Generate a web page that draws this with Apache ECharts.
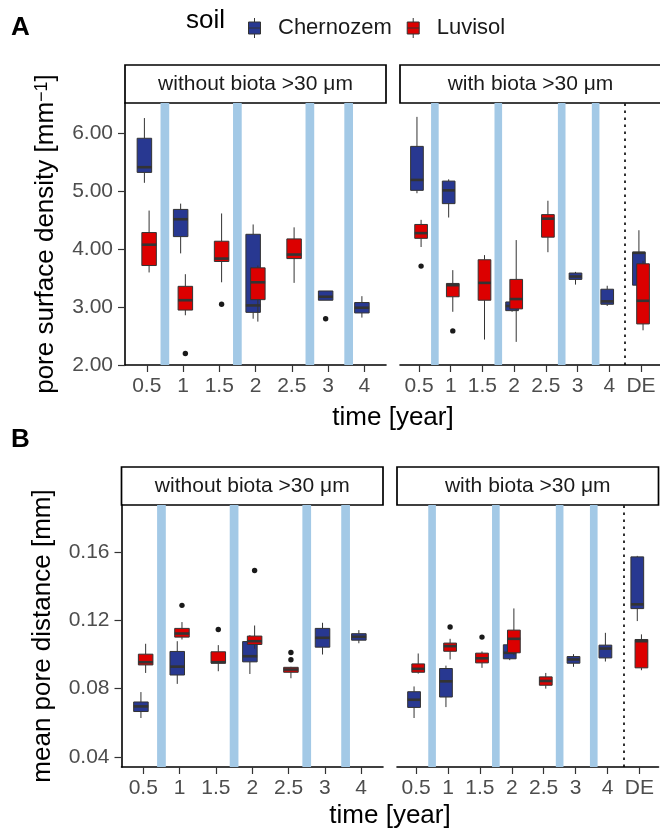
<!DOCTYPE html>
<html><head><meta charset="utf-8">
<script src="https://cdn.jsdelivr.net/npm/echarts@6/dist/echarts.min.js"></script>
<style>html,body{margin:0;padding:0;background:#fff}#c{width:660px;height:832px}</style>
</head><body><div id="c"></div><script>
// ---------- data ----------
const timesWithout = ['0.5','1','1.5','2','2.5','3','4'];
const timesWith = ['0.5','1','1.5','2','2.5','3','4','DE'];
const soils = ['Chernozem','Luvisol'];
const facetLabels = ['without biota >30 μm','with biota >30 μm'];
const densityTicks = [2,3,4,5,6];
const distanceTicks = [0.04,0.08,0.12,0.16];
const bandTimes = [0.5,2.5,4.5,5.57];   // positions in category units
const deSeparator = 6.5;

// boxes: [time, lower whisker, Q1, median, Q3, upper whisker]
const densityWithoutChernozem = [
  ['0.5',5.15,5.33,5.42,5.92,6.27],['1',3.93,4.22,4.52,4.69,4.79],['2',2.80,2.91,3.03,4.26,4.43],
  ['3',3.12,3.12,3.18,3.28,3.28],['4',2.82,2.90,2.99,3.08,3.19]];
const densityWithoutLuvisol = [
  ['0.5',3.60,3.72,4.08,4.29,4.67],['1',2.86,2.95,3.12,3.36,3.57],['1.5',3.43,3.79,3.84,4.14,4.62],
  ['2',2.75,3.13,3.43,3.68,3.72],['2.5',3.42,3.84,3.91,4.18,4.38]];
const densityWithoutChernozemOut = [['3',2.80]];
const densityWithoutLuvisolOut = [['1',2.20],['1.5',3.05]];

const densityWithChernozem = [
  ['0.5',4.97,5.02,5.20,5.78,6.29],['1',4.55,4.79,5.02,5.18,5.21],['2',2.92,2.94,3.02,3.09,3.10],
  ['3',3.39,3.48,3.53,3.59,3.61],['4',3.02,3.05,3.10,3.31,3.37],['DE',3.30,3.38,3.94,3.95,4.33]];
const densityWithLuvisol = [
  ['0.5',4.04,4.19,4.28,4.43,4.51],['1',2.92,3.18,3.38,3.41,3.64],['1.5',2.44,3.12,3.42,3.82,3.90],
  ['2',2.40,2.97,3.14,3.48,4.16],['2.5',3.95,4.21,4.53,4.60,4.84],['DE',2.60,2.71,3.11,3.75,3.80]];
const densityWithChernozemOut = [];
const densityWithLuvisolOut = [['0.5',3.71],['1',2.59]];

const distanceWithoutChernozem = [
  ['0.5',0.0628,0.0666,0.0696,0.0722,0.0780],['1',0.0828,0.0880,0.0929,0.1018,0.1078],
  ['2',0.0886,0.0957,0.0990,0.1076,0.1113],['3',0.1000,0.1043,0.1098,0.1153,0.1186],
  ['4',0.1066,0.1084,0.1104,0.1122,0.1143]];
const distanceWithoutLuvisol = [
  ['0.5',0.0892,0.0939,0.0955,0.1002,0.1063],['1',0.1088,0.1102,0.1123,0.1153,0.1190],
  ['1.5',0.0902,0.0949,0.0955,0.1016,0.1055],['2',0.1034,0.1059,0.1078,0.1108,0.1170],
  ['2.5',0.0861,0.0896,0.0912,0.0925,0.0928]];
const distanceWithoutChernozemOut = [];
const distanceWithoutLuvisolOut = [['1',0.1288],['1.5',0.1147],['2',0.1492],['2.5',0.1012],['2.5',0.0969]];

const distanceWithChernozem = [
  ['0.5',0.0628,0.0690,0.0735,0.0782,0.0813],['1',0.0692,0.0751,0.0843,0.0918,0.0935],
  ['2',0.0967,0.0975,0.1010,0.1057,0.1080],['3',0.0928,0.0949,0.0971,0.0988,0.1002],
  ['4',0.0959,0.0980,0.1035,0.1055,0.1127],['DE',0.1196,0.1269,0.1294,0.1572,0.1578]];
const distanceWithLuvisol = [
  ['0.5',0.0888,0.0896,0.0916,0.0945,0.1006],['1',0.0971,0.1019,0.1049,0.1067,0.1092],
  ['1.5',0.0922,0.0951,0.0978,0.1008,0.1018],['2',0.0996,0.1010,0.1092,0.1143,0.1270],
  ['2.5',0.0800,0.0820,0.0845,0.0869,0.0892],['DE',0.0908,0.0922,0.1078,0.1088,0.1118]];
const distanceWithChernozemOut = [];
const distanceWithLuvisolOut = [['1',0.1161],['1.5',0.1102]];

// ---------- styles ----------
const FONT = 'Liberation Sans, Arial, sans-serif';
const soilColors = {Chernozem:'#283891', Luvisol:'#dc0000'};
const soilDodge = {Chernozem:-0.065, Luvisol:0.065};
const BOX_HALF = 0.2;
const EDGE = '#333333';
const BAND = '#a3c9e6';
const STRIP_H = 38;
const panels = [
  {grid:{left:125, top:103, width:261, height:262}, cats:timesWithout},
  {grid:{left:400, top:103, width:261, height:262}, cats:timesWith},
  {grid:{left:121.5, top:505, width:261.5, height:262}, cats:timesWithout},
  {grid:{left:397, top:505, width:261.5, height:262}, cats:timesWith}
];
const yRanges = [[2, 6.53],[2, 6.53],[0.0341, 0.1876],[0.0341, 0.1876]];

const chart = echarts.init(document.getElementById('c'), null, {renderer:'canvas'});

function toRows(cats, rows){ return rows.map(r => [cats.indexOf(r[0])].concat(r.slice(1))); }

function boxSeries(p, soil, rows, extra){
  const color = soilColors[soil], off = soilDodge[soil];
  const s = {
    type:'custom', name:soil, xAxisIndex:p, yAxisIndex:p, z:3,
    itemStyle:{color:color},
    encode:{x:0, y:[1,2,3,4,5]},
    data: toRows(panels[p].cats, rows),
    renderItem:function(params, api){
      const x = api.value(0) + off;
      const lo = api.coord([x, api.value(1)]);
      const q1 = api.coord([x, api.value(2)]);
      const md = api.coord([x, api.value(3)]);
      const q3 = api.coord([x, api.value(4)]);
      const hi = api.coord([x, api.value(5)]);
      const half = api.size([BOX_HALF, 0])[0];
      const cx = md[0];
      return {type:'group', children:[
        {type:'line', shape:{x1:cx,y1:hi[1],x2:cx,y2:q3[1]}, style:{stroke:EDGE,lineWidth:1}},
        {type:'line', shape:{x1:cx,y1:q1[1],x2:cx,y2:lo[1]}, style:{stroke:EDGE,lineWidth:1}},
        {type:'rect', shape:{x:cx-half,y:q3[1],width:2*half,height:q1[1]-q3[1]}, style:{fill:color,stroke:EDGE,lineWidth:1}},
        {type:'line', shape:{x1:cx-half,y1:md[1],x2:cx+half,y2:md[1]}, style:{stroke:EDGE,lineWidth:2.6}}
      ]};
    }
  };
  Object.assign(s, extra||{});
  return s;
}
function outlierSeries(p, soil, rows){
  const off = soilDodge[soil];
  return {
    type:'custom', name:soil, xAxisIndex:p, yAxisIndex:p, z:4,
    itemStyle:{color:soilColors[soil]},
    encode:{x:0, y:1},
    data: toRows(panels[p].cats, rows),
    renderItem:function(params, api){
      const c = api.coord([api.value(0)+off, api.value(1)]);
      return {type:'circle', shape:{cx:c[0], cy:c[1], r:2.7}, style:{fill:'#1a1a1a'}};
    }
  };
}
function bands(){
  return {silent:true, itemStyle:{color:BAND}, label:{show:false},
    data: bandTimes.map(t => [{xAxis:t-0.12},{xAxis:t+0.12}])};
}
function sepLine(){
  return {silent:true, symbol:['none','none'], label:{show:false},
    lineStyle:{color:'#000', type:[2.5,4.5], width:1.6},
    data:[{xAxis:deSeparator}]};
}

const grids = panels.map(p => Object.assign({containLabel:false}, p.grid));
const xAxes = panels.map((p,i) => {
  const idx = p.cats.map((_,k)=>k);
  return {type:'value', gridIndex:i, min:-0.6, max:p.cats.length-0.4, splitLine:{show:false},
    axisLine:{show:true, onZero:false, lineStyle:{color:'#000', width:1.6}},
    axisTick:{show:true, customValues:idx, length:7, lineStyle:{color:'#333', width:1.2}},
    axisLabel:{customValues:idx, formatter:v => p.cats[Math.round(v)], color:'#4d4d4d',
      fontSize:21, margin:11, fontFamily:FONT}};
});
const yAxes = panels.map((p,i) => {
  const left = (i===0 || i===2);
  const ticks = i<2 ? densityTicks : distanceTicks;
  const ax = {type:'value', gridIndex:i, min:yRanges[i][0], max:yRanges[i][1], splitLine:{show:false},
    axisLine:{show:left, onZero:false, lineStyle:{color:'#000', width:1.6}},
    axisTick:{show:left, customValues:ticks, length:7, lineStyle:{color:'#333', width:1.2}},
    axisLabel:{show:left, customValues:ticks, formatter:v => v.toFixed(2), color:'#4d4d4d',
      fontSize:21, margin:12, fontFamily:FONT}};
  if (i===0) {
    Object.assign(ax, {name:'{a|pore surface density [mm}{s|−1}{a|]}', nameLocation:'middle', nameGap:66, nameRotate:90,
      nameTextStyle:{fontFamily:FONT, rich:{a:{fontSize:26, color:'#000', fontFamily:FONT},
        s:{fontSize:18, color:'#000', fontFamily:FONT, verticalAlign:'top'}}}});
  }
  if (i===2) {
    Object.assign(ax, {name:'mean pore distance [mm]', nameLocation:'middle', nameGap:66, nameRotate:90,
      nameTextStyle:{fontSize:26, color:'#000', fontFamily:FONT}});
  }
  return ax;
});

const series = [
  boxSeries(0,'Chernozem',densityWithoutChernozem,{markArea:bands()}),
  boxSeries(0,'Luvisol',densityWithoutLuvisol),
  outlierSeries(0,'Chernozem',densityWithoutChernozemOut),
  outlierSeries(0,'Luvisol',densityWithoutLuvisolOut),
  boxSeries(1,'Chernozem',densityWithChernozem,{markArea:bands(), markLine:sepLine()}),
  boxSeries(1,'Luvisol',densityWithLuvisol),
  outlierSeries(1,'Chernozem',densityWithChernozemOut),
  outlierSeries(1,'Luvisol',densityWithLuvisolOut),
  boxSeries(2,'Chernozem',distanceWithoutChernozem,{markArea:bands()}),
  boxSeries(2,'Luvisol',distanceWithoutLuvisol),
  outlierSeries(2,'Chernozem',distanceWithoutChernozemOut),
  outlierSeries(2,'Luvisol',distanceWithoutLuvisolOut),
  boxSeries(3,'Chernozem',distanceWithChernozem,{markArea:bands(), markLine:sepLine()}),
  boxSeries(3,'Luvisol',distanceWithLuvisol),
  outlierSeries(3,'Chernozem',distanceWithChernozemOut),
  outlierSeries(3,'Luvisol',distanceWithLuvisolOut)
];

function strip(g, label){
  return {type:'group', children:[
    {type:'rect', shape:{x:g.left, y:g.top-STRIP_H, width:g.width, height:STRIP_H},
      style:{fill:'#fff', stroke:'#000', lineWidth:1.7}},
    {type:'text', x:g.left+g.width/2, y:g.top-STRIP_H/2,
      style:{text:label, fill:'#1a1a1a', font:'21px '+FONT, textAlign:'center', textVerticalAlign:'middle'}}
  ]};
}
const graphics = [
  {type:'text', left:11, top:15, style:{text:'A', fill:'#000', font:'bold 26px '+FONT}},
  {type:'text', left:11, top:427, style:{text:'B', fill:'#000', font:'bold 26px '+FONT}},
  {type:'text', left:186, top:8, style:{text:'soil', fill:'#000', font:'26px '+FONT}},
  strip(panels[0].grid, facetLabels[0]), strip(panels[1].grid, facetLabels[1]),
  strip(panels[2].grid, facetLabels[0]), strip(panels[3].grid, facetLabels[1]),
  {type:'text', x:393, y:418, style:{text:'time [year]', fill:'#000', font:'26px '+FONT, textAlign:'center', textVerticalAlign:'middle'}},
  {type:'text', x:390, y:816, style:{text:'time [year]', fill:'#000', font:'26px '+FONT, textAlign:'center', textVerticalAlign:'middle'}}
];

const icon = 'path://M6,0L6,4M0,4L12,4L12,16L0,16ZM0,10L12,10M6,16L6,20';
chart.setOption({
  animation:false,
  textStyle:{fontFamily:FONT},
  grid:grids, xAxis:xAxes, yAxis:yAxes, series:series,
  legend:{left:243, top:12, itemWidth:13, itemHeight:20, itemGap:15, selectedMode:false,
    textStyle:{fontSize:22, color:'#1a1a1a', fontFamily:FONT, padding:[0,0,0,12]},
    data:soils.map(s => ({name:s, icon:icon, itemStyle:{color:soilColors[s], borderColor:EDGE, borderWidth:1}}))},
  graphic:graphics
});
</script></body></html>
